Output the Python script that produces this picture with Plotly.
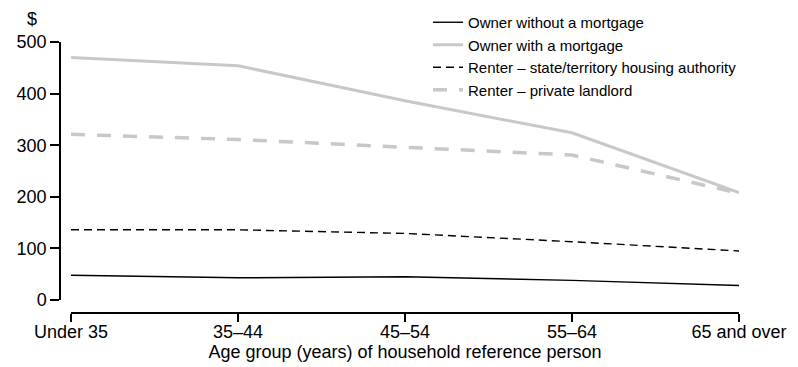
import plotly.graph_objects as go

age_groups = ["Under 35", "35–44", "45–54", "55–64", "65 and over"]
owner_no_mortgage = [48, 43, 45, 38, 28]
owner_mortgage = [470, 454, 386, 324, 208]
renter_state = [136, 136, 129, 113, 95]
renter_private = [321, 311, 296, 281, 207]

GREY = "#c8c8c8"
FONT = "Liberation Sans"

# page has an 8px body margin; work in page pixels and convert
OFF = 8
W, H = 798 - OFF, 367 - OFF
PLOT_L, PLOT_R, PLOT_T, PLOT_B = 40, 758, 42, 313   # page pixels
ML = PLOT_L - OFF
MR = W - (PLOT_R - OFF)
MT = PLOT_T - OFF
MB = H - (PLOT_B - OFF)
PW = PLOT_R - PLOT_L
PH = PLOT_B - PLOT_T

def px_x(p):
    return (p - PLOT_L) / PW

def px_y(p):
    return (PLOT_B - p) / PH

fig = go.Figure()
fig.add_trace(go.Scatter(x=age_groups, y=owner_no_mortgage, mode="lines",
                         name="Owner without a mortgage",
                         line=dict(color="black", width=1.4)))
fig.add_trace(go.Scatter(x=age_groups, y=owner_mortgage, mode="lines",
                         name="Owner with a mortgage",
                         line=dict(color=GREY, width=3)))
fig.add_trace(go.Scatter(x=age_groups, y=renter_state, mode="lines",
                         name="Renter – state/territory housing authority",
                         line=dict(color="black", width=1.4, dash="8px,5px")))
fig.add_trace(go.Scatter(x=age_groups, y=renter_private, mode="lines",
                         name="Renter – private landlord",
                         line=dict(color=GREY, width=3.5, dash="14px,12px")))

fig.update_layout(
    width=W, height=H,
    margin=dict(l=ML, r=MR, t=MT, b=MB, autoexpand=False),
    paper_bgcolor="white", plot_bgcolor="white",
    font=dict(family=FONT, size=18, color="black"),
    showlegend=True,
    legend=dict(x=px_x(428), y=px_y(6), xanchor="left", yanchor="top",
                font=dict(family=FONT, size=15, color="black"),
                bgcolor="rgba(0,0,0,0)", borderwidth=0,
                tracegroupgap=0),
    xaxis=dict(
        type="category",
        domain=[px_x(71), px_x(739)],
        range=[0, len(age_groups) - 1],
        anchor="free", position=0,
        showline=True, linecolor="black", linewidth=1.5,
        ticks="outside", ticklen=8, tickwidth=1.5, tickcolor="black",
        ticklabelstandoff=-5,
        showgrid=False, zeroline=False,
        tickfont=dict(family=FONT, size=18),
        title=dict(text="Age group (years) of household reference person",
                   font=dict(family=FONT, size=18), standoff=2),
        automargin=False,
    ),
    yaxis=dict(
        domain=[px_y(300), 1],
        range=[0, 500], dtick=100,
        anchor="free", position=px_x(60),
        showline=True, linecolor="black", linewidth=1.5,
        ticks="outside", ticklen=9, tickwidth=1.5, tickcolor="black",
        showgrid=False, zeroline=False,
        tickfont=dict(family=FONT, size=18),
        automargin=False,
    ),
    annotations=[dict(text="$", xref="paper", yref="paper",
                      x=px_x(32), y=px_y(19), xanchor="center", yanchor="middle",
                      showarrow=False, font=dict(family=FONT, size=18))],
)

fig.write_html("out.html")
